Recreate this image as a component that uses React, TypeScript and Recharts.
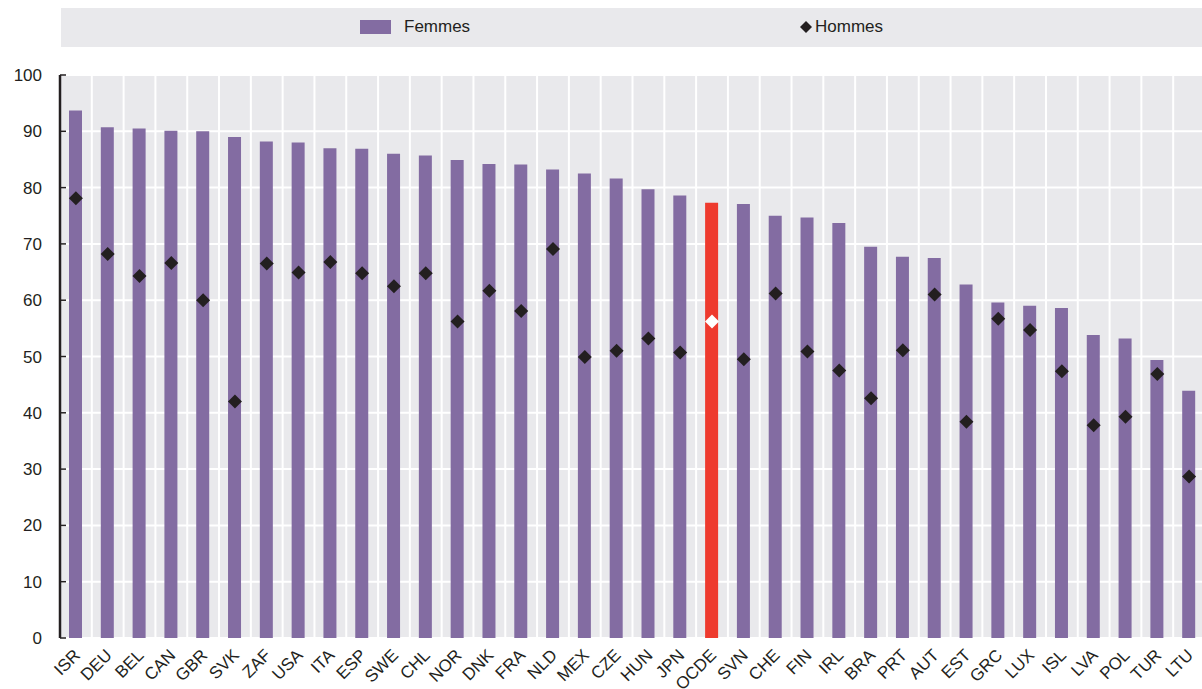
import React from "react";
import {
  ComposedChart,
  Bar,
  Scatter,
  XAxis,
  YAxis,
  CartesianGrid,
  Cell,
} from "recharts";

const countries = [
  "ISR", "DEU", "BEL", "CAN", "GBR", "SVK", "ZAF", "USA", "ITA", "ESP", "SWE", "CHL",
  "NOR", "DNK", "FRA", "NLD", "MEX", "CZE", "HUN", "JPN", "OCDE", "SVN", "CHE", "FIN",
  "IRL", "BRA", "PRT", "AUT", "EST", "GRC", "LUX", "ISL", "LVA", "POL", "TUR", "LTU",
];
const femmes = [
  93.7, 90.7, 90.5, 90.1, 90.0, 89.0, 88.2, 88.0, 87.0, 86.9, 86.0, 85.7,
  84.9, 84.2, 84.1, 83.2, 82.5, 81.6, 79.7, 78.6, 77.3, 77.1, 75.0, 74.7,
  73.7, 69.5, 67.7, 67.5, 62.8, 59.6, 59.0, 58.6, 53.8, 53.2, 49.4, 43.9,
];
const hommes = [
  78.1, 68.2, 64.3, 66.6, 60.0, 42.0, 66.5, 64.9, 66.8, 64.8, 62.5, 64.8,
  56.2, 61.7, 58.1, 69.1, 49.9, 51.0, 53.2, 50.7, 56.2, 49.5, 61.2, 50.9,
  47.5, 42.6, 51.1, 61.0, 38.4, 56.7, 54.7, 47.4, 37.8, 39.3, 46.9, 28.7,
];
const yTicks = [0, 10, 20, 30, 40, 50, 60, 70, 80, 90, 100];
const highlight = "OCDE";

const PURPLE = "#836ca2";
const RED = "#ee3a2e";
const BG = "#e9e9ec";
const INK = "#231f20";
const FONT = "'Liberation Sans', Arial, sans-serif";

const data = countries.map((c, i) => ({ country: c, femmes: femmes[i], hommes: hommes[i] }));
const boundaryTicks = countries.map((_, i) => i).concat([countries.length]);

const EmptyTick = () => <g />;

const CatTick = (props: any) => {
  const { x, y, payload } = props;
  return (
    <g transform={`translate(${x + 1},${y + 14}) rotate(-45)`}>
      <text x={0} y={0} dy="0.35em" textAnchor="end" fontSize={17} fill={INK} fontFamily={FONT}>
        {payload.value}
      </text>
    </g>
  );
};

const Diamond = (props: any) => {
  const { cx, cy, payload } = props;
  if (cx == null || cy == null) return <g />;
  const r = 7;
  const fill = payload && payload.country === highlight ? "#ffffff" : INK;
  return (
    <path
      d={`M${cx},${cy - r} L${cx + r},${cy} L${cx},${cy + r} L${cx - r},${cy} Z`}
      fill={fill}
    />
  );
};

const verticalGen = (args: any) => {
  const { xAxis, offset } = args || {};
  if (xAxis && typeof xAxis.scale === "function") {
    const pts = boundaryTicks.map((t) => xAxis.scale(t)).filter((v: any) => typeof v === "number" && isFinite(v));
    if (pts.length === boundaryTicks.length) return pts;
  }
  const n = countries.length;
  return boundaryTicks.map((t) => offset.left + (offset.width * t) / n);
};

export default function App() {
  return (
    <div style={{ position: "absolute", left: 0, top: 0, width: 1202, height: 689, overflow: "hidden", background: "#fff" }}>
      <div
        style={{
          position: "absolute",
          left: 61,
          top: 8,
          width: 1141,
          height: 39,
          background: BG,
          fontFamily: FONT,
          fontSize: 17,
          color: INK,
        }}
      >
        <div style={{ position: "absolute", left: 299, top: 12, width: 31, height: 14, background: PURPLE }} />
        <div style={{ position: "absolute", left: 343, top: 9, lineHeight: "20px" }}>Femmes</div>
        <svg style={{ position: "absolute", left: 738, top: 12 }} width={14} height={14}>
          <path d="M7,1 L13,7 L7,13 L1,7 Z" fill={INK} />
        </svg>
        <div style={{ position: "absolute", left: 754, top: 9, lineHeight: "20px" }}>Hommes</div>
      </div>
      <ComposedChart
        width={1205}
        height={689}
        data={data}
        margin={{ top: 75, right: 0, bottom: 0, left: 0 }}
      >
        <XAxis
          xAxisId="num"
          type="number"
          domain={[0, countries.length]}
          ticks={boundaryTicks}
          allowDataOverflow
          height={0}
          tick={EmptyTick}
          tickSize={-6}
          tickLine={{ stroke: INK, strokeWidth: 1.5 }}
          axisLine={{ stroke: INK, strokeWidth: 2.5 }}
        />
        <XAxis
          xAxisId="cat"
          dataKey="country"
          type="category"
          interval={0}
          height={51}
          axisLine={false}
          tickLine={false}
          tickSize={0}
          tickMargin={0}
          tick={<CatTick />}
        />
        <YAxis
          yAxisId="y"
          type="number"
          domain={[0, 100]}
          ticks={yTicks}
          width={60}
          axisLine={{ stroke: INK, strokeWidth: 2.5 }}
          tickLine={{ stroke: INK, strokeWidth: 1.5 }}
          tickSize={-6}
          tickMargin={24}
          tick={{ fontSize: 17, fill: INK, fontFamily: FONT }}
        />
        <CartesianGrid
          xAxisId="num"
          yAxisId="y"
          stroke="#ffffff"
          strokeWidth={2}
          fill={BG}
          fillOpacity={1}
          verticalCoordinatesGenerator={verticalGen}
        />
        <Bar
          xAxisId="cat"
          yAxisId="y"
          dataKey="femmes"
          barSize={13}
          isAnimationActive={false}
        >
          {data.map((d) => (
            <Cell key={d.country} fill={d.country === highlight ? RED : PURPLE} />
          ))}
        </Bar>
        <Scatter
          xAxisId="cat"
          yAxisId="y"
          dataKey="hommes"
          shape={<Diamond />}
          isAnimationActive={false}
        />
      </ComposedChart>
    </div>
  );
}
